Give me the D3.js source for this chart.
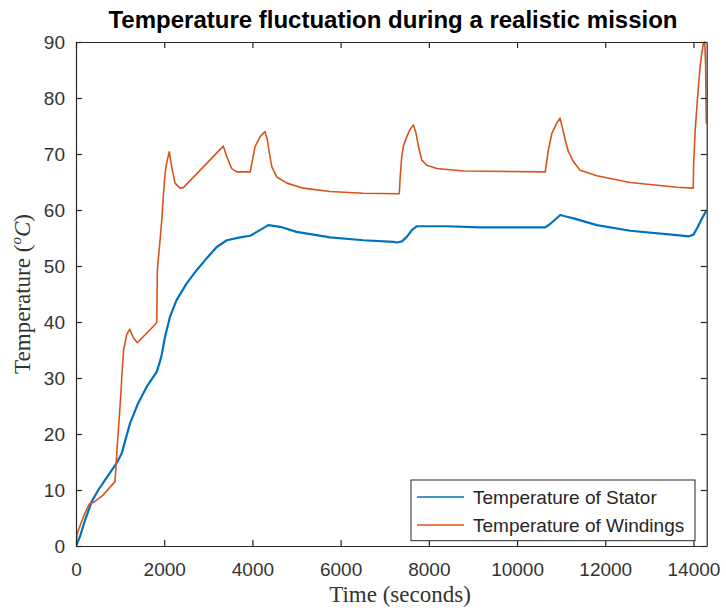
<!DOCTYPE html>
<html>
<head>
<meta charset="utf-8">
<script src="https://cdn.jsdelivr.net/npm/d3@7"></script>
<style>
  body { margin: 0; background: #fff; }
  svg { display: block; }
</style>
</head>
<body>
<svg id="chart" width="726" height="610"></svg>
<script>
// Stator temperature samples (seconds, °C)
const statorTime = [0, 90, 205, 355, 505, 660, 920, 1035, 1225, 1410, 1600, 1830, 1905, 1945, 2020,
  2130, 2280, 2510, 2740, 2965, 3190, 3420, 3720, 3950, 4170, 4360, 4630, 5000, 5760, 6520, 7200,
  7280, 7390, 7500, 7615, 7730, 8410, 9160, 10640, 10750, 10865, 10980, 11130, 11280, 11810, 12565,
  13620, 13900, 14000, 14100, 14200, 14300];
const statorTemp = [0, 1.7, 4.6, 7.9, 10.0, 11.8, 14.8, 16.5, 21.9, 25.5, 28.4, 31.1, 33.0, 34.2, 37.4,
  40.9, 43.9, 46.9, 49.3, 51.4, 53.4, 54.6, 55.1, 55.4, 56.4, 57.3, 57.0, 56.1, 55.1, 54.6, 54.3,
  54.2, 54.4, 55.2, 56.4, 57.1, 57.1, 56.9, 56.9, 57.5, 58.3, 59.1, 58.8, 58.5, 57.3, 56.3,
  55.5, 55.3, 55.6, 57.0, 58.6, 60.0];

// Winding temperature samples (seconds, °C)
const windingTime = [0, 20, 100, 200, 300, 400, 600, 885, 940, 985, 1020, 1040, 1080, 1150, 1220,
  1300, 1390, 1600, 1800, 1830, 1845, 1905, 1945, 1980, 2020, 2060, 2115, 2170, 2245, 2360, 2435,
  3340, 3420, 3530, 3645, 3950, 3985, 4060, 4175, 4285, 4340, 4385, 4440, 4550, 4780, 5155, 5760,
  6510, 7310, 7330, 7350, 7385, 7425, 7500, 7575, 7650, 7710, 7765, 7840, 7955, 8180, 8785, 10640,
  10655, 10710, 10790, 10900, 10975, 11040, 11090, 11165, 11280, 11430, 11810, 12565, 13625, 13995,
  14005, 14040, 14077, 14115, 14152, 14190, 14227, 14255, 14275, 14290, 14300];
const windingTemp = [0, 2.0, 3.8, 5.8, 7.5, 7.8, 9.0, 11.5, 18.4, 23.4, 27.5, 30.5, 35.0, 37.8, 38.7,
  37.2, 36.3, 38.0, 39.6, 39.9, 49.3, 54.6, 58.2, 62.4, 66.6, 68.6, 70.4, 67.7, 64.8, 63.9, 64.0,
  71.4, 69.5, 67.4, 66.8, 66.8, 68.3, 71.3, 73.1, 74.0, 72.5, 70.1, 67.7, 65.9, 64.8, 63.9, 63.3,
  63.0, 62.9, 62.9, 65.9, 69.5, 71.5, 73.1, 74.4, 75.2, 73.7, 71.3, 68.9, 68.0, 67.4, 66.96, 66.8,
  67.7, 70.7, 73.7, 75.5, 76.4, 74.3, 72.5, 70.4, 68.6, 67.1, 66.1, 64.9, 64.05, 63.9,
  68.6, 74.3, 78.4, 82.3, 85.6, 88.0, 89.8, 90.0, 86.0, 75.5, 75.5];

const xTicks = [0, 2000, 4000, 6000, 8000, 10000, 12000, 14000];
const yTicks = [0, 10, 20, 30, 40, 50, 60, 70, 80, 90];
const seriesNames = ["Temperature of Stator", "Temperature of Windings"];
const seriesColors = ["#0072BD", "#D95319"];

const svg = d3.select("#chart");
const plotLeft = 76, plotRight = 706.7, plotTop = 42, plotBottom = 546;
const axisColor = "#262626";
const tickFont = "'Liberation Sans', Arial, Helvetica, sans-serif";
const plain = d3.format("d");

const x = d3.scaleLinear().domain([0, 14300]).range([plotLeft, plotRight]);
const y = d3.scaleLinear().domain([0, 90]).range([plotBottom, plotTop]);

svg.append("defs").append("clipPath").attr("id", "plotClip")
  .append("rect").attr("x", plotLeft).attr("y", plotTop - 1)
  .attr("width", plotRight - plotLeft).attr("height", plotBottom - plotTop + 2);

const line = d3.line().x(d => x(d[0])).y(d => y(d[1]));
const series = [
  d3.zip(statorTime, statorTemp),
  d3.zip(windingTime, windingTemp)
];
const widths = [2.2, 1.6];

const plot = svg.append("g").attr("clip-path", "url(#plotClip)");
series.forEach((pts, i) => {
  plot.append("path")
    .datum(pts)
    .attr("fill", "none")
    .attr("stroke", seriesColors[i])
    .attr("stroke-width", widths[i])
    .attr("stroke-linejoin", "round")
    .attr("d", line);
});

function styleAxis(g) {
  g.selectAll("path.domain").attr("stroke", axisColor).attr("stroke-width", 1.2);
  g.selectAll(".tick line").attr("stroke", axisColor).attr("stroke-width", 1.2);
  g.selectAll(".tick text").attr("fill", "#333").attr("font-family", tickFont).attr("font-size", 19);
}

svg.append("g").attr("transform", `translate(0,${plotBottom})`)
  .call(d3.axisBottom(x).tickValues(xTicks).tickFormat(plain)
    .tickSizeInner(-6).tickSizeOuter(0).tickPadding(17))
  .call(styleAxis);
svg.append("g").attr("transform", `translate(0,${plotTop})`)
  .call(d3.axisTop(x).tickValues(xTicks).tickSizeInner(-6).tickSizeOuter(0).tickFormat(""))
  .call(styleAxis);
svg.append("g").attr("transform", `translate(${plotLeft},0)`)
  .call(d3.axisLeft(y).tickValues(yTicks).tickFormat(plain)
    .tickSizeInner(-6).tickSizeOuter(0).tickPadding(11))
  .call(styleAxis);
svg.append("g").attr("transform", `translate(${plotRight},0)`)
  .call(d3.axisRight(y).tickValues(yTicks).tickSizeInner(-6).tickSizeOuter(0).tickFormat(""))
  .call(styleAxis);

// Title
svg.append("text")
  .attr("x", 393).attr("y", 28)
  .attr("text-anchor", "middle")
  .attr("font-family", tickFont)
  .attr("font-weight", "bold")
  .attr("font-size", 24)
  .attr("fill", "#000")
  .text("Temperature fluctuation during a realistic mission");

// Axis labels (serif, math-style)
const serif = "'Liberation Serif', 'DejaVu Serif', 'Times New Roman', serif";
svg.append("text")
  .attr("x", 400).attr("y", 602)
  .attr("text-anchor", "middle")
  .attr("font-family", serif)
  .attr("font-size", 23)
  .attr("fill", "#333")
  .text("Time (seconds)");

const yl = svg.append("text")
  .attr("transform", "translate(30,294) rotate(-90)")
  .attr("text-anchor", "middle")
  .attr("font-family", serif)
  .attr("font-size", 23)
  .attr("fill", "#333");
yl.append("tspan").text("Temperature (");
yl.append("tspan").attr("font-style", "italic").attr("font-size", 15).attr("dy", -9).text("o");
yl.append("tspan").attr("font-style", "italic").attr("dy", 9).text("C");
yl.append("tspan").text(")");

// Legend
const lg = svg.append("g");
lg.append("rect")
  .attr("x", 411).attr("y", 480).attr("width", 284).attr("height", 60.7)
  .attr("fill", "#fff").attr("stroke", axisColor).attr("stroke-width", 1);
seriesNames.forEach((name, i) => {
  const yy = 497 + i * 28;
  lg.append("line")
    .attr("x1", 417).attr("x2", 464).attr("y1", yy).attr("y2", yy)
    .attr("stroke", seriesColors[i]).attr("stroke-width", 1.6);
  lg.append("text")
    .attr("x", 473).attr("y", yy).attr("dy", "0.35em")
    .attr("font-family", tickFont).attr("font-size", 19)
    .attr("fill", "#262626")
    .text(name);
});
</script>
</body>
</html>
